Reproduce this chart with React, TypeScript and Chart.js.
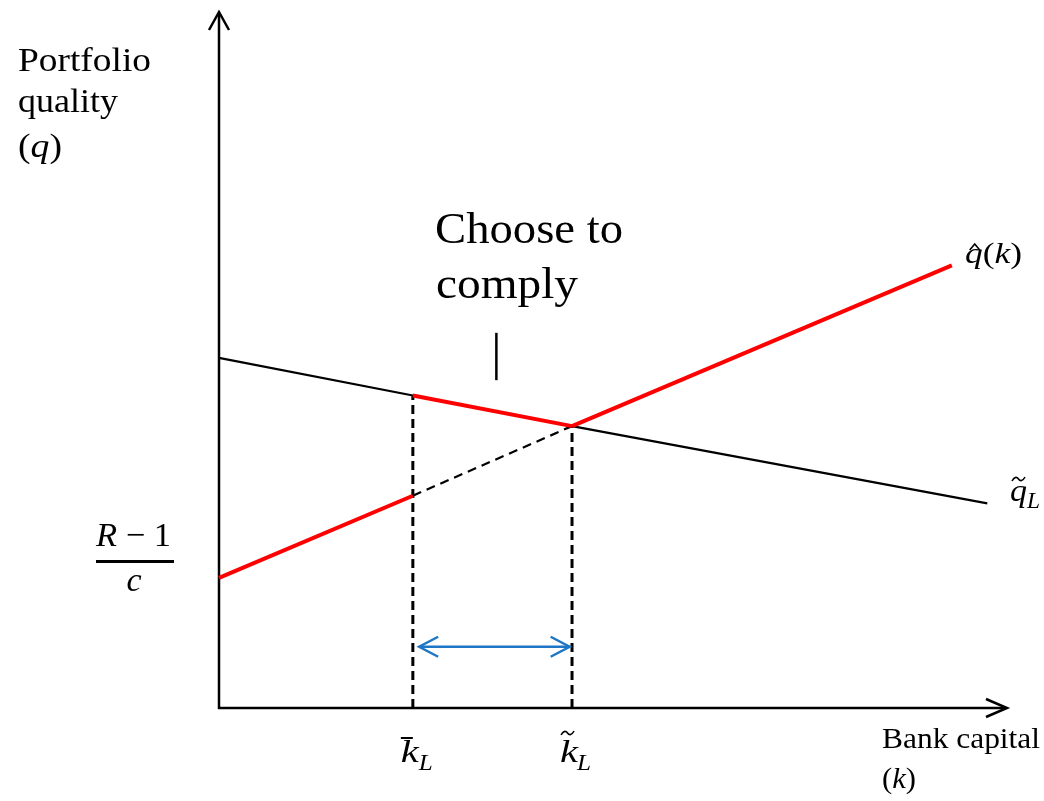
import { useEffect, useRef } from 'react';
import { Chart, registerables } from 'chart.js';

Chart.register(...registerables);

// Bank capital (k) and portfolio quality (q) on a 0–10 scale each.
const axisMax = { k: 10, q: 10 };

// Compliance frontier q̃_L (falling in k).
const qTildeK = [0, 2.46, 4.48, 9.75];
const qTildeQ = [5.03, 4.49, 4.05, 2.94];

// Unregulated choice q̂(k) (rising in k).
const qHatK = [0, 2.46, 4.48, 9.3];
const qHatQ = [1.87, 3.05, 4.05, 6.36];

// Pointer under the "Choose to comply" note.
const choiceTickK = [3.52, 3.52];
const choiceTickQ = [4.71, 5.39];

// Double-headed arrow spanning k̄_L .. k̃_L.
const gapArrowK = [2.54, 4.45];
const gapArrowQ = [0.88, 0.88];

const RED = '#FF0000';
const BLACK = '#000000';
const BLUE = '#1F76C6';
const SERIF = "'Liberation Serif', 'Times New Roman', serif";

type Pt = { x: number; y: number };
const pts = (ks: number[], qs: number[], from: number, to: number): Pt[] =>
  ks.slice(from, to + 1).map((k, i) => ({ x: k, y: qs[from + i] }));

type Run = { text: string; font: string };

// Draws a run of text pieces on one baseline, stretched to a target width.
function drawRuns(ctx: CanvasRenderingContext2D, runs: Run[], x: number, y: number, width?: number) {
  const ws = runs.map((r) => {
    ctx.font = r.font;
    return ctx.measureText(r.text).width;
  });
  const total = ws.reduce((a, b) => a + b, 0);
  const sx = width ? width / total : 1;
  let cx = x;
  const starts: number[] = [];
  runs.forEach((r, i) => {
    starts.push(cx);
    ctx.font = r.font;
    ctx.save();
    ctx.translate(cx, y);
    ctx.scale(sx, 1);
    ctx.fillText(r.text, 0, 0);
    ctx.restore();
    cx += ws[i] * sx;
  });
  return { starts, widths: ws.map((w) => w * sx) };
}

function tilde(ctx: CanvasRenderingContext2D, x0: number, y: number, w: number) {
  ctx.beginPath();
  ctx.moveTo(x0, y + 2);
  ctx.bezierCurveTo(x0 + w * 0.2, y - 3, x0 + w * 0.4, y - 2, x0 + w * 0.5, y);
  ctx.bezierCurveTo(x0 + w * 0.6, y + 2, x0 + w * 0.8, y + 3, x0 + w, y - 2);
  ctx.stroke();
}

const diagramPlugin = {
  id: 'diagram',
  beforeDatasetsDraw(chart: any) {
    const { ctx, chartArea } = chart;
    const { left, right, top, bottom } = chartArea;
    ctx.save();
    ctx.strokeStyle = BLACK;
    ctx.lineWidth = 2.5;
    ctx.lineCap = 'butt';
    ctx.lineJoin = 'miter';
    // vertical axis with open arrowhead
    ctx.beginPath();
    ctx.moveTo(left, bottom + 1);
    ctx.lineTo(left, top + 1);
    ctx.stroke();
    ctx.beginPath();
    ctx.moveTo(left - 10, top + 18);
    ctx.lineTo(left, top);
    ctx.lineTo(left + 10, top + 18);
    ctx.stroke();
    // horizontal axis with open arrowhead
    ctx.beginPath();
    ctx.moveTo(left - 1, bottom);
    ctx.lineTo(right - 1, bottom);
    ctx.stroke();
    ctx.beginPath();
    ctx.moveTo(right - 21, bottom - 9);
    ctx.lineTo(right, bottom);
    ctx.lineTo(right - 21, bottom + 9);
    ctx.stroke();
    ctx.restore();
  },
  afterDatasetsDraw(chart: any) {
    const { ctx } = chart;
    const xs = chart.scales.x;
    const ys = chart.scales.y;
    ctx.save();

    // heads of the blue double arrow
    const ax0 = xs.getPixelForValue(gapArrowK[0]);
    const ax1 = xs.getPixelForValue(gapArrowK[1]);
    const ay = ys.getPixelForValue(gapArrowQ[0]);
    ctx.strokeStyle = BLUE;
    ctx.lineWidth = 2.5;
    ctx.beginPath();
    ctx.moveTo(ax0 + 19, ay - 10);
    ctx.lineTo(ax0, ay);
    ctx.lineTo(ax0 + 19, ay + 10);
    ctx.moveTo(ax1 - 19, ay - 10);
    ctx.lineTo(ax1, ay);
    ctx.lineTo(ax1 - 19, ay + 10);
    ctx.stroke();

    ctx.fillStyle = BLACK;
    ctx.strokeStyle = BLACK;
    ctx.textBaseline = 'alphabetic';
    ctx.textAlign = 'left';

    const up = (s: number) => `${s}px ${SERIF}`;
    const it = (s: number) => `italic ${s}px ${SERIF}`;

    // y-axis title
    drawRuns(ctx, [{ text: 'Portfolio', font: up(33) }], 18, 71, 133);
    drawRuns(ctx, [{ text: 'quality', font: up(33) }], 18, 112, 100);
    drawRuns(ctx, [{ text: '(', font: up(33) }, { text: 'q', font: it(33) }, { text: ')', font: up(33) }], 18, 157, 44);

    // x-axis title
    drawRuns(ctx, [{ text: 'Bank capital', font: up(30) }], 882, 748, 158);
    drawRuns(ctx, [{ text: '(', font: up(30) }, { text: 'k', font: it(30) }, { text: ')', font: up(30) }], 882, 788, 34);

    // annotation
    drawRuns(ctx, [{ text: 'Choose to', font: up(44) }], 435, 243, 188);
    drawRuns(ctx, [{ text: 'comply', font: up(44) }], 436, 298, 142);

    // (R − 1) / c
    drawRuns(ctx, [{ text: 'R', font: it(34) }, { text: ' − 1', font: up(34) }], 96, 546, 75);
    ctx.fillRect(96, 560, 78, 3);
    ctx.font = it(34);
    ctx.textAlign = 'center';
    ctx.fillText('c', 134, 591);
    ctx.textAlign = 'left';

    // q̂(k)
    const qh = drawRuns(
      ctx,
      [
        { text: 'q', font: it(30) },
        { text: '(', font: up(30) },
        { text: 'k', font: it(30) },
        { text: ')', font: up(30) },
      ],
      965,
      263,
      57
    );
    ctx.lineWidth = 1.6;
    const hx = qh.starts[0] + qh.widths[0] * 0.55;
    ctx.beginPath();
    ctx.moveTo(hx - 5, 250);
    ctx.lineTo(hx, 244);
    ctx.lineTo(hx + 5, 250);
    ctx.stroke();

    // q̃_L
    drawRuns(ctx, [{ text: 'q', font: it(31) }], 1010, 501, 17);
    tilde(ctx, 1012, 479, 13);
    drawRuns(ctx, [{ text: 'L', font: it(23) }], 1027, 508, 13);

    // k̄_L and k̃_L under the axis
    const kb = xs.getPixelForValue(qTildeK[1]);
    drawRuns(ctx, [{ text: 'k', font: it(32) }], kb - 12, 762, 18);
    ctx.fillRect(kb - 12, 737, 12, 2);
    drawRuns(ctx, [{ text: 'L', font: it(24) }], kb + 6, 770, 14);

    const kt = xs.getPixelForValue(qTildeK[2]);
    drawRuns(ctx, [{ text: 'k', font: it(32) }], kt - 12, 762, 18);
    ctx.lineWidth = 1.6;
    tilde(ctx, kt - 11, 733, 13);
    drawRuns(ctx, [{ text: 'L', font: it(24) }], kt + 5, 770, 14);

    ctx.restore();
  },
};

export default function App() {
  const canvasRef = useRef<HTMLCanvasElement | null>(null);

  useEffect(() => {
    const canvas = canvasRef.current;
    if (!canvas) return;

    const line = (data: Pt[], color: string, width: number, order: number, dash: number[] = []) => ({
      data,
      borderColor: color,
      backgroundColor: color,
      borderWidth: width,
      borderDash: dash,
      showLine: true,
      pointRadius: 0,
      pointHoverRadius: 0,
      fill: false,
      tension: 0,
      clip: false as const,
      order,
    });

    const chart = new Chart(canvas, {
      type: 'scatter',
      data: {
        datasets: [
          line(pts(qTildeK, qTildeQ, 0, 3), BLACK, 2.2, 5),
          line(pts(qHatK, qHatQ, 1, 2), BLACK, 2.2, 4, [9, 6]),
          line([{ x: qTildeK[1], y: 0 }, { x: qTildeK[1], y: qTildeQ[1] }], BLACK, 3, 3, [9, 5]),
          line([{ x: qTildeK[2], y: 0 }, { x: qTildeK[2], y: qTildeQ[2] }], BLACK, 3, 3, [9, 5]),
          line(pts(qHatK, qHatQ, 0, 1), RED, 4, 1),
          line(pts(qHatK, qHatQ, 2, 3), RED, 4, 1),
          line(pts(qTildeK, qTildeQ, 1, 2), RED, 4, 1),
          line(pts(choiceTickK, choiceTickQ, 0, 1), BLACK, 2.5, 2),
          line(pts(gapArrowK, gapArrowQ, 0, 1), BLUE, 2.5, 2),
        ],
      },
      options: {
        responsive: false,
        animation: false,
        devicePixelRatio: 1,
        layout: { padding: { left: 219, right: 37, top: 12, bottom: 93 } },
        plugins: {
          legend: { display: false },
          tooltip: { enabled: false },
        },
        events: [],
        scales: {
          x: { type: 'linear', min: 0, max: axisMax.k, display: false },
          y: { type: 'linear', min: 0, max: axisMax.q, display: false },
        },
      },
      plugins: [diagramPlugin],
    });

    return () => chart.destroy();
  }, []);

  return (
    <div style={{ position: 'fixed', left: 0, top: 0, width: 1044, height: 801, background: '#fff' }}>
      <canvas ref={canvasRef} width={1044} height={801} style={{ display: 'block' }} />
    </div>
  );
}
